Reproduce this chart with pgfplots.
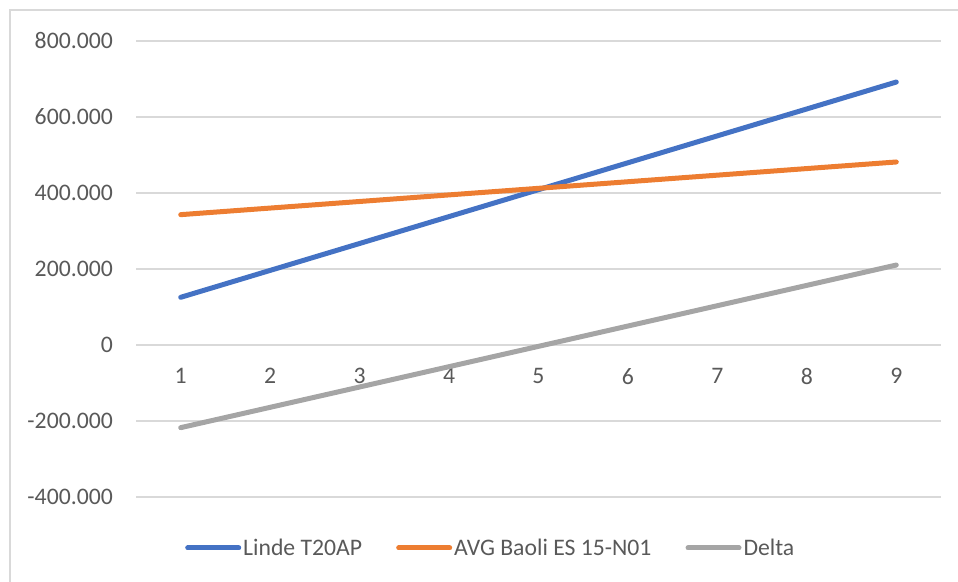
\documentclass[border=0pt]{standalone}
\usepackage{pgfplots}
\pgfplotsset{compat=1.18}
\usepackage{fontspec}
\setmainfont{Carlito}
\definecolor{cblue}{HTML}{4472C4}
\definecolor{corange}{HTML}{ED7D31}
\definecolor{cgray}{HTML}{A5A5A5}
\definecolor{gridc}{HTML}{D9D9D9}
\definecolor{txt}{HTML}{595959}
\begin{document}
\begin{tikzpicture}[x=1pt,y=1pt]
\useasboundingbox (0,0) rectangle (958,581);
\draw[gridc, line width=1.5pt] (10,-5) -- (10,571) -- (965,571);
\begin{axis}[
  at={(136pt,84pt)}, anchor=south west,
  scale only axis, width=805pt, height=456pt,
  xmin=0.5, xmax=9.5, ymin=-400000, ymax=800000,
  axis x line=middle, axis y line=left,
  axis line style={-, draw=none},
  xtick={1,...,9},
  ytick={-400000,-200000,0,200000,400000,600000,800000},
  major tick length=0pt,
  ymajorgrids, grid style={draw=gridc, line width=1.3pt},
  scaled y ticks=false,
  /pgf/number format/.cd, fixed, 1000 sep={.}, assume math mode=true,
  /pgfplots/.cd,
  tick label style={font=\fontsize{23.7}{28}\selectfont, text=txt, inner sep=0pt},
  yticklabel style={anchor=east, xshift=-23pt},
  xticklabel style={anchor=north, yshift=-23pt},
  legend columns=3,
  legend style={at={(0.0609,-0.1118)}, anchor=west, draw=none, fill=none,
    inner sep=0pt, font=\fontsize{23.7}{28}\selectfont, text=txt,
    nodes={inner sep=2pt},
    /tikz/every even column/.append style={column sep=32pt}},
  legend image code/.code={\draw[#1, line cap=round] (2.5pt,0pt) -- (53.5pt,0pt);},
  every axis plot/.append style={line width=5pt, line cap=round, line join=round, mark=none},
  clip=false,
]
\addplot[cblue] coordinates {(1,125500) (2,196310) (3,267130) (4,337940) (5,408750) (6,479560) (7,550380) (8,621190) (9,692000)};
\addlegendentry{Linde T20AP}
\addplot[corange] coordinates {(1,343000) (2,360330) (3,377650) (4,394980) (5,412300) (6,429630) (7,446950) (8,464280) (9,481600)};
\addlegendentry{AVG Baoli ES 15-N01}
\addplot[cgray] coordinates {(1,-217500) (2,-164020) (3,-110520) (4,-57040) (5,-3550) (6,49930) (7,103430) (8,156910) (9,210400)};
\addlegendentry{Delta}
\end{axis}
\end{tikzpicture}
\end{document}
